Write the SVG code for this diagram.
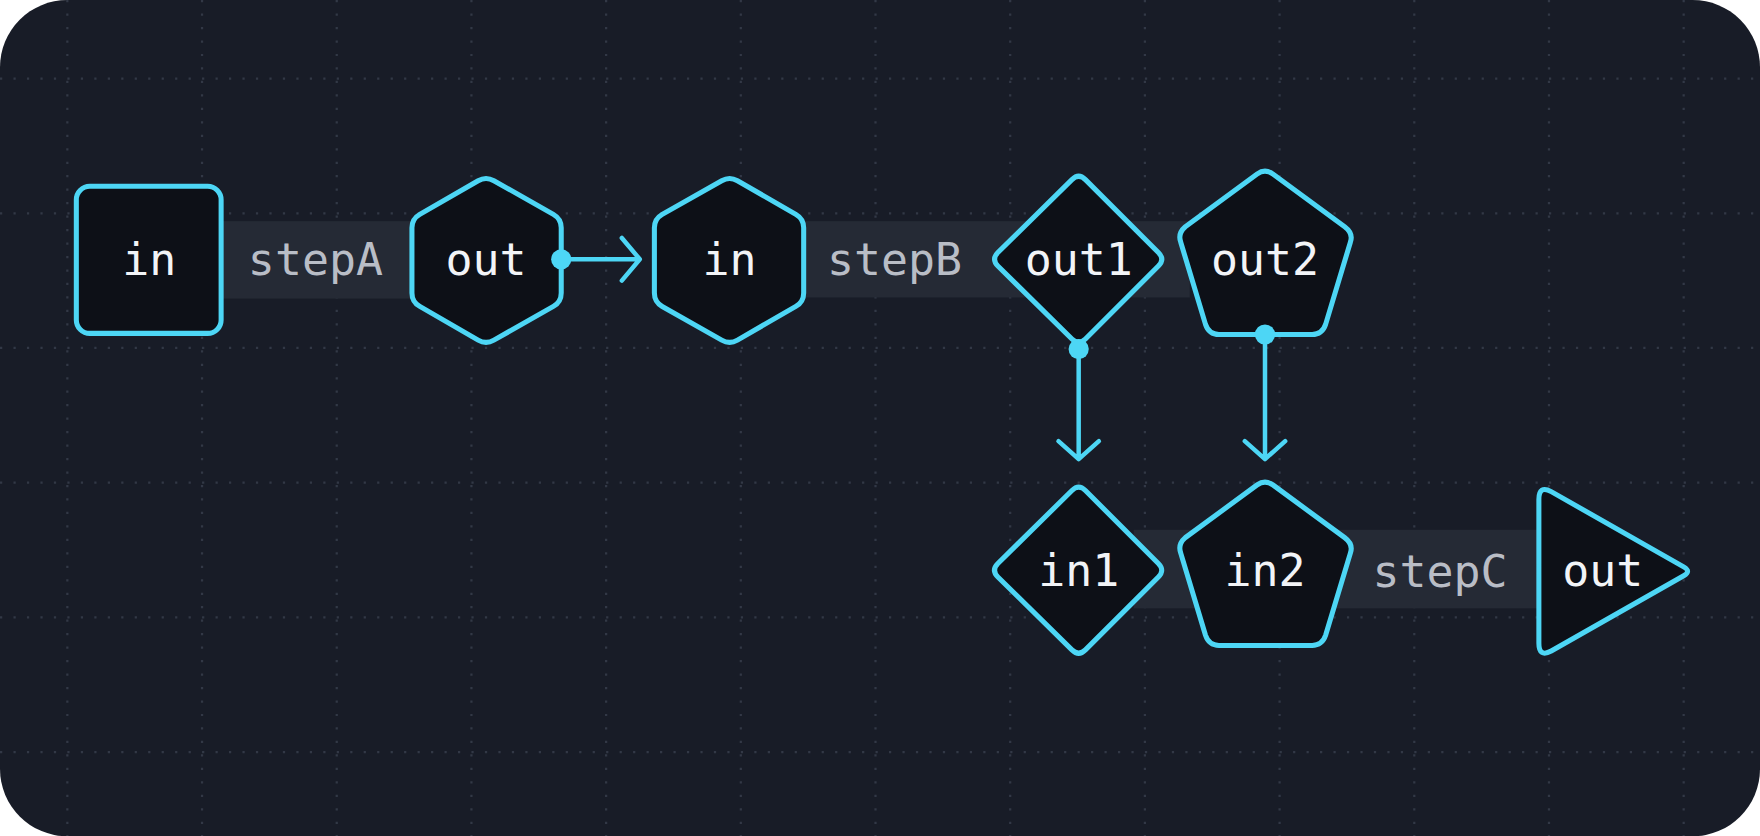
<svg xmlns="http://www.w3.org/2000/svg" width="1760" height="836" viewBox="0 0 1760 836">
<defs>
<style>
.n{fill:#0d1017;stroke:#4dd6f5;stroke-width:4.5;stroke-linejoin:round}
.t{font-family:"DejaVu Sans Mono","Liberation Mono",monospace;font-size:40px;fill:#f2f4f7;text-anchor:middle;dominant-baseline:central}
.s{fill:#b9bdc6}
.band{fill:#252a35}
.gv{stroke:#323846;stroke-width:2;stroke-dasharray:2 10}
.c{stroke:#4dd6f5;stroke-width:4;fill:none;stroke-linecap:round;stroke-linejoin:round}
</style>
<clipPath id="bg"><rect width="1568" height="745" rx="60"/></clipPath>
</defs>
<g transform="scale(1.12245)">
<rect width="1568" height="745" rx="60" fill="#181c27"/>
<g clip-path="url(#bg)">
<path class="gv" d="M60 0V745M180 0V745M300 0V745M420 0V745M540 0V745M660 0V745M780 0V745M900 0V745M1020 0V745M1140 0V745M1260 0V745M1380 0V745M1500 0V745M0 70H1568M0 190H1568M0 310H1568M0 430H1568M0 550H1568M0 670H1568"/>
</g>
<rect class="band" x="198" y="197" width="172" height="69"/>
<rect class="band" x="716" y="197" width="344" height="68"/>
<rect class="band" x="1010" y="472" width="362" height="70"/>
<text class="t s" x="281" y="231">stepA</text>
<text class="t s" x="797" y="231">stepB</text>
<text class="t s" x="1283" y="509">stepC</text>
<g id="a_in"><rect class="n" x="68" y="166" width="129" height="131" rx="12"/><text class="t" x="133" y="231">in</text></g>
<g id="a_out"><path class="n" d="M440 161L493 191Q500 195 500 203V261Q500 269 493 273L440 303Q433 307 426 303L374 273Q367 269 367 261V203Q367 195 374 191L426 161Q433 157 440 161Z"/><text class="t" x="433" y="231">out</text></g>
<g id="b_in"><path class="n" d="M657 161L709 191Q716 195 716 203V261Q716 269 709 273L657 303Q650 307 643 303L590 273Q583 269 583 261V203Q583 195 590 191L643 161Q650 157 657 161Z"/><text class="t" x="650" y="231">in</text></g>
<g id="b_out1"><path class="n" d="M967 160L1032 225Q1038 231 1032 237L967 302Q961 308 955 302L889 237Q883 231 889 225L955 160Q961 154 967 160Z"/><text class="t" x="961" y="231">out1</text></g>
<g id="b_out2"><path class="n" d="M1134 155L1198 202Q1206 208 1203 216L1181 289Q1178 298 1169 298H1086Q1077 298 1074 289L1052 216Q1049 208 1056 202L1120 155Q1127 150 1134 155Z"/><text class="t" x="1127" y="231">out2</text></g>
<g id="c_in1"><path class="n" d="M967 437L1032 502Q1038 508 1032 514L967 579Q961 585 955 579L889 514Q883 508 889 502L955 437Q961 431 967 437Z"/><text class="t" x="961" y="508">in1</text></g>
<g id="c_in2"><path class="n" d="M1134 432L1198 479Q1206 485 1203 493L1181 566Q1178 575 1169 575H1086Q1077 575 1074 566L1052 493Q1049 485 1056 479L1120 432Q1127 427 1134 432Z"/><text class="t" x="1127" y="508">in2</text></g>
<g id="c_out"><path class="n" d="M1371 445Q1371 432 1382 438L1500 505Q1507 509 1500 513L1382 580Q1371 586 1371 573Z"/><text class="t" x="1428" y="508">out</text></g>
<g id="connectors">
<path class="c" d="M500 231H569M554 212L570 231L554 250"/>
<circle cx="500" cy="231" r="9" fill="#4dd6f5"/>
<path class="c" d="M961 311V409M943 393L961 409L979 393"/>
<circle cx="961" cy="311" r="9" fill="#4dd6f5"/>
<path class="c" d="M1127 298V409M1109 393L1127 409L1145 393"/>
<circle cx="1127" cy="298" r="9" fill="#4dd6f5"/>
</g>
</g>
</svg>
